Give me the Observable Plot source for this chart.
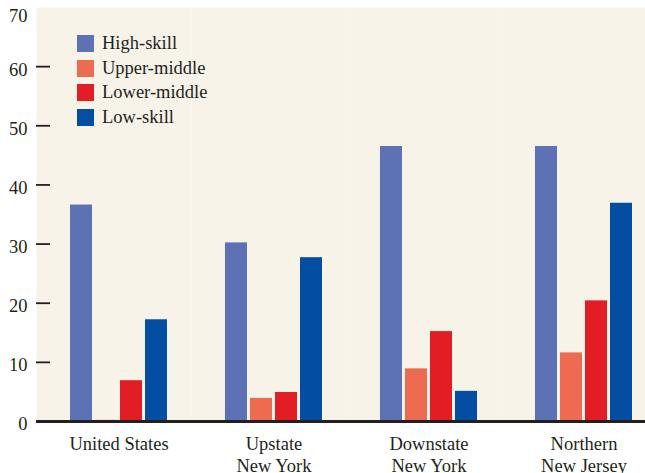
<!DOCTYPE html>
<html><head><meta charset="utf-8">
<script src="https://cdn.jsdelivr.net/npm/d3@7"></script>
<script src="https://cdn.jsdelivr.net/npm/@observablehq/plot@0.6"></script>
<style>
body{margin:0;background:#fff;}
#wrap{position:relative;width:645px;height:473px;overflow:hidden;font-family:"Liberation Serif",serif;color:#231f20;}
#chart svg{max-width:none !important;display:block;}
#legend{position:absolute;left:77px;top:31px;}
.row{display:flex;align-items:center;height:24.7px;font-size:18.5px;line-height:1;}
.sw{width:17px;height:17px;margin-right:8px;flex:none;}
</style></head><body><div id="wrap"><div id="chart"></div><div id="legend"></div></div>
<script>
const regions = ["United States", "Upstate\nNew York", "Downstate\nNew York", "Northern\nNew Jersey"];
const skills = ["High-skill", "Upper-middle", "Lower-middle", "Low-skill"];
const colors = ["#5c72b5", "#ec6b51", "#e31d24", "#034ea2"];
const highSkill = [36.6, 30.2, 46.5, 46.5];
const upperMiddle = [0.2, 3.9, 8.9, 11.6];
const lowerMiddle = [6.9, 4.9, 15.2, 20.4];
const lowSkill = [17.2, 27.7, 5.1, 36.9];
const yTicks = [0, 10, 20, 30, 40, 50, 60];
const yTopTick = [70];
const yTickMarks = [10, 20, 30, 40, 50, 60];

const series = [highSkill, upperMiddle, lowerMiddle, lowSkill];
const data = [];
regions.forEach((r, i) => skills.forEach((s, j) => data.push({region: r, skill: s, value: series[j][i]})));

const chart = Plot.plot({
  width: 656,
  height: 473,
  marginLeft: 36,
  marginRight: 0,
  marginTop: 7,
  marginBottom: 52,
  style: {fontFamily: "Liberation Serif, serif", fontSize: "18.5px", background: "transparent", color: "#231f20", maxWidth: "none"},
  fx: {domain: regions, paddingInner: 0, paddingOuter: 0, round: false, label: null},
  x: {domain: skills, paddingInner: 0.12, paddingOuter: 1.16, align: 0.586, round: false, axis: null},
  y: {domain: [0, 70], label: null},
  color: {domain: skills, range: colors},
  marks: [
    Plot.frame({fill: "#f7f3e9", stroke: "none"}),
    Plot.barY(data, {fx: "region", x: "skill", y: "value", fill: "skill"}),
    Plot.ruleY([0], {stroke: "#231f20", strokeWidth: 3}),
    Plot.axisY({ticks: yTicks, tickSize: 0, tickPadding: 9, line: true, strokeWidth: 1.8, label: null, dy: 3, stroke: "#231f20", fill: "#231f20"}),
    Plot.axisY({ticks: yTopTick, tickSize: 0, tickPadding: 9, label: null, dy: 9, fill: "#231f20"}),
    Plot.axisY({ticks: yTickMarks, tickSize: 14, dx: 14, text: null, strokeWidth: 1.8, label: null, stroke: "#231f20"}),
    Plot.axisFx({anchor: "bottom", tickSize: 0, tickPadding: 12, dx: 5, label: null, lineAnchor: "top", lineHeight: 1.22, fill: "#231f20"})
  ]
});
document.getElementById("chart").appendChild(chart);

const legend = document.getElementById("legend");
skills.forEach((s, i) => {
  const row = document.createElement("div");
  row.className = "row";
  const sw = document.createElement("div");
  sw.className = "sw";
  sw.style.background = colors[i];
  const t = document.createElement("span");
  t.textContent = s;
  row.appendChild(sw); row.appendChild(t);
  legend.appendChild(row);
});
</script></body></html>
